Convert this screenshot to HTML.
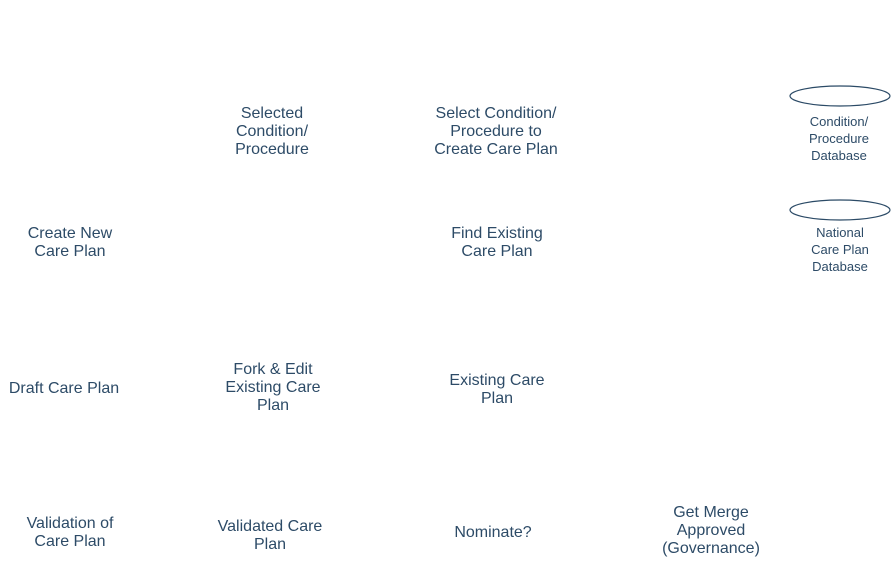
<!DOCTYPE html>
<html><head><style>
body{margin:0;width:892px;height:581px;background:#fff;position:relative;overflow:hidden;font-family:"Liberation Sans",sans-serif;color:#2d4b67}
.t{position:absolute;width:200px;margin-left:-100px;text-align:center;font-size:16px;line-height:18px}
.d{position:absolute;width:120px;margin-left:-60px;text-align:center;font-size:13px;line-height:17px}
</style></head><body>
<svg width="892" height="581" style="position:absolute;left:0;top:0">
<ellipse cx="840" cy="96" rx="50" ry="10" fill="#fff" stroke="#2b4a66" stroke-width="1.2"/>
<ellipse cx="840" cy="210" rx="50" ry="10" fill="#fff" stroke="#2b4a66" stroke-width="1.2"/>
</svg>
<div class="t" style="left:272px;top:105px">Selected<br>Condition/<br>Procedure</div>
<div class="t" style="left:496px;top:105px">Select Condition/<br>Procedure to<br>Create Care Plan</div>
<div class="t" style="left:70px;top:225px">Create New<br>Care Plan</div>
<div class="t" style="left:497px;top:225px">Find Existing<br>Care Plan</div>
<div class="t" style="left:64px;top:380px">Draft Care Plan</div>
<div class="t" style="left:273px;top:361px">Fork &amp; Edit<br>Existing Care<br>Plan</div>
<div class="t" style="left:497px;top:372px">Existing Care<br>Plan</div>
<div class="t" style="left:70px;top:515px">Validation of<br>Care Plan</div>
<div class="t" style="left:270px;top:518px">Validated Care<br>Plan</div>
<div class="t" style="left:493px;top:524px">Nominate?</div>
<div class="t" style="left:711px;top:504px">Get Merge<br>Approved<br>(Governance)</div>
<div class="d" style="left:839px;top:113px">Condition/<br>Procedure<br>Database</div>
<div class="d" style="left:840px;top:224px">National<br>Care Plan<br>Database</div>
</body></html>
